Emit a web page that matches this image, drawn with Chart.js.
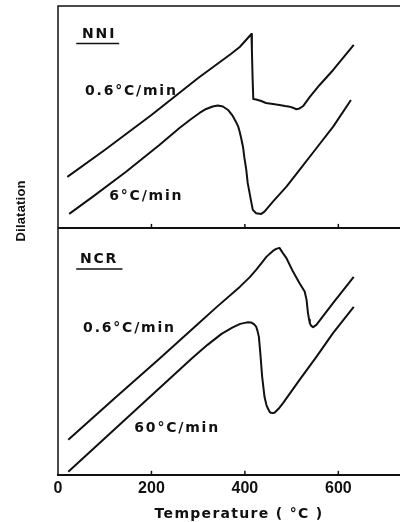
<!DOCTYPE html>
<html>
<head>
<meta charset="utf-8">
<script src="https://cdn.jsdelivr.net/npm/chart.js@4.4.0/dist/chart.umd.min.js"></script>
<style>
body { margin: 0; background: #fff; }
</style>
</head>
<body>
<canvas id="dil" width="400" height="522"></canvas>
<script>
/* temperature axis (C) */
var xTicks = [0, 200, 400, 600];

/* NNI, 0.6 C/min */
var nniSlowT = [20, 100, 200, 300, 370, 389, 414, 415, 416.5, 418, 424, 435, 445, 460, 474, 486, 496, 504, 510, 517, 525, 539, 560, 589, 633];
var nniSlowV = [51, 78, 113, 150, 174, 181, 194, 178, 150, 129, 128.5, 127, 125, 124, 123, 122, 121.3, 120, 118.7, 119.5, 122, 131, 143, 158, 183];

/* NNI, 6 C/min */
var nniFastT = [24, 74, 145, 217, 260, 285, 303, 317, 331, 342, 353, 364, 374, 381, 386, 389, 392, 396, 399, 403, 406, 410, 414, 417, 424, 435, 442, 460, 489, 517, 553, 589, 627];
var nniFastV = [14, 31, 56, 83, 100, 109, 115, 119, 121.5, 122.5, 121.5, 118, 112, 106, 101, 96, 90, 81, 70, 58, 45, 35, 25, 18, 14.7, 14, 16.3, 26.3, 41.3, 58, 79.7, 101.3, 128];

/* NCR, 0.6 C/min */
var ncrSlowT = [22, 120, 217, 300, 340, 389, 410, 424, 436, 446, 454, 460, 467, 474, 481, 489, 503, 517, 528, 532, 535, 537.5, 539, 542, 546, 553, 589, 633];
var ncrSlowV = [35, 76, 116, 151, 168, 188, 197.5, 205, 212, 218, 221.5, 224, 226, 227, 222, 216.7, 203.3, 191.7, 183.3, 175, 162, 155, 151.7, 149, 147.7, 150, 172, 198];

/* NCR, 60 C/min */
var ncrFastT = [22, 288, 320, 350, 374, 390, 405, 414, 420, 424, 427, 430, 433, 437, 442, 446, 449, 453, 456, 460, 464, 472, 482, 517, 553, 589, 633];
var ncrFastV = [3, 117, 130, 141, 147.5, 151, 152.5, 152.3, 150.5, 148.3, 144, 138, 122, 98, 78, 70, 66.5, 63, 62, 61.7, 62.3, 66, 72, 95, 118, 142, 168];

function pts(t, v) {
    return t.map(function (x, i) { return {x: x, y: v[i]}; });
}

function curve(t, v, axis) {
    return {
        data: pts(t, v),
        yAxisID: axis,
        borderColor: '#111',
        borderWidth: 2,
        borderJoinStyle: 'round',
        pointRadius: 0,
        tension: 0,
        fill: false
    };
}

/* text inside the panels, placed in axis units (alphabetic baseline) */
var notes = [
    {text: 'NNI', x: 88, y: 190, axis: 'yTop', under: [39, 131, 184.5]},
    {text: '0.6\u00b0C/min', x: 157, y: 133, axis: 'yTop'},
    {text: '6\u00b0C/min', x: 189, y: 28, axis: 'yTop'},
    {text: 'NCR', x: 88, y: 212, axis: 'yBot', under: [39, 138, 206]},
    {text: '0.6\u00b0C/min', x: 153, y: 143, axis: 'yBot'},
    {text: '60\u00b0C/min', x: 255, y: 43, axis: 'yBot'}
];

var frame = {
    id: 'frame',
    afterDraw: function (chart) {
        var c = chart.ctx, a = chart.chartArea, s = chart.scales;
        var mid = s.yTop.bottom;
        c.save();
        c.strokeStyle = '#111';
        c.lineWidth = 1.5;
        c.beginPath();
        c.moveTo(a.left, a.bottom);
        c.lineTo(a.left, a.top);
        c.lineTo(a.right, a.top);
        c.stroke();
        c.lineWidth = 2;
        c.beginPath();
        c.moveTo(a.left, mid);
        c.lineTo(a.right, mid);
        c.stroke();

        // inward ticks on both panel bottoms
        c.lineWidth = 1.5;
        xTicks.forEach(function (t) {
            if (t === 0) return;
            var px = s.x.getPixelForValue(t);
            [mid, a.bottom].forEach(function (y) {
                c.beginPath();
                c.moveTo(px, y);
                c.lineTo(px, y - 4);
                c.stroke();
            });
        });

        c.fillStyle = '#111';
        c.textAlign = 'center';
        c.textBaseline = 'alphabetic';
        c.font = 'bold 14px "DejaVu Sans"';
        c.letterSpacing = '1.8px';
        notes.forEach(function (n) {
            var px = s.x.getPixelForValue(n.x), py = s[n.axis].getPixelForValue(n.y);
            c.fillText(n.text, px, py);
            if (n.under) {
                var uy = s[n.axis].getPixelForValue(n.under[2]);
                c.lineWidth = 1.5;
                c.beginPath();
                c.moveTo(s.x.getPixelForValue(n.under[0]), uy);
                c.lineTo(s.x.getPixelForValue(n.under[1]), uy);
                c.stroke();
            }
        });

        // axis titles
        c.font = 'bold 14px "DejaVu Sans"';
        c.letterSpacing = '1.3px';
        c.fillText('Temperature ( \u00b0C )', 239, 518);
        c.save();
        c.translate(25, s.yTop.getPixelForValue(17));
        c.rotate(-Math.PI / 2);
        c.font = 'bold 13px "Liberation Sans"';
        c.letterSpacing = '0.2px';
        c.fillText('Dilatation', 0, 0);
        c.restore();
        c.restore();
    }
};

var ctx = document.getElementById('dil').getContext('2d');
var myChart = new Chart(ctx, {
    type: 'line',
    data: {
        datasets: [
            curve(nniSlowT, nniSlowV, 'yTop'),
            curve(nniFastT, nniFastV, 'yTop'),
            curve(ncrSlowT, ncrSlowV, 'yBot'),
            curve(ncrFastT, ncrFastV, 'yBot')
        ]
    },
    options: {
        responsive: false,
        animation: false,
        layout: {
            padding: {left: 58, top: 6, right: 0, bottom: 20}
        },
        plugins: {
            legend: {display: false},
            tooltip: {enabled: false}
        },
        scales: {
            x: {
                type: 'linear',
                min: 0,
                max: 732,
                afterBuildTicks: function (scale) {
                    scale.ticks = xTicks.map(function (v) { return {value: v}; });
                },
                grid: {display: false, drawTicks: false},
                border: {display: true, color: '#111', width: 2},
                ticks: {
                    color: '#111',
                    padding: 4,
                    font: {family: 'Liberation Sans', size: 16, weight: 'bold'}
                }
            },
            yBot: {
                type: 'linear',
                position: 'left',
                stack: 'panels',
                stackWeight: 247,
                min: 0,
                max: 247,
                display: false
            },
            yTop: {
                type: 'linear',
                position: 'left',
                stack: 'panels',
                stackWeight: 222,
                min: 0,
                max: 222,
                display: false
            }
        }
    },
    plugins: [frame]
});
</script>
</body>
</html>
